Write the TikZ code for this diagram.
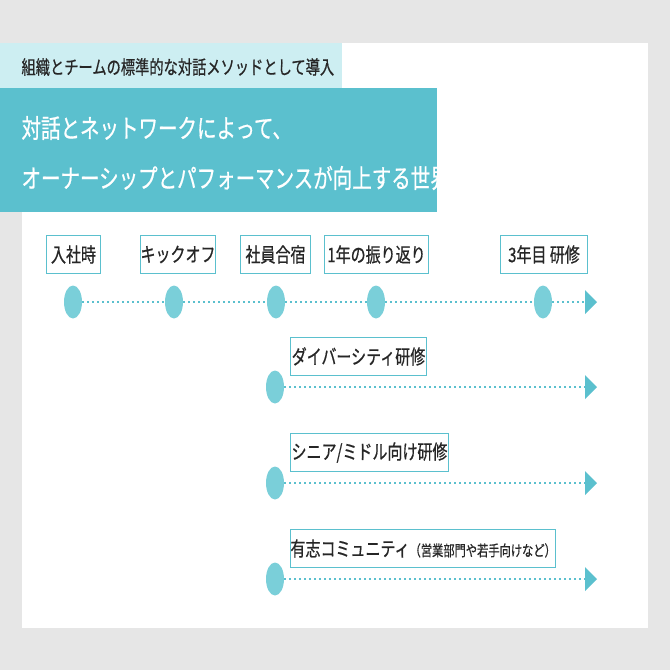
\documentclass[tikz,border=0pt]{standalone}
\usepackage{fontspec}
\setmainfont{Noto Sans CJK JP}
\newfontfamily\cond[FakeStretch=0.75,FakeBold=0.6]{Noto Sans CJK JP}
\usetikzlibrary{shapes.geometric}
\definecolor{teal1}{HTML}{5BC0CE}
\definecolor{dotc}{HTML}{7ACFD9}
\definecolor{light}{HTML}{CDEEF2}
\definecolor{bg}{HTML}{E6E6E6}
\begin{document}
\begin{tikzpicture}[x=1pt,y=-1pt,
  lbl/.style={draw=teal1,line width=1pt,fill=white,inner sep=0pt,anchor=north west,font=\cond\fontsize{20}{20}\selectfont,text=black!85},
  dot/.style={ellipse,fill=dotc,minimum width=18pt,minimum height=33pt,inner sep=0pt},
  tl/.style={line width=1.6pt,teal1,dash pattern=on 1.6pt off 3.4pt},
  tip/.style={fill=teal1}]
\fill[bg] (0,0) rectangle (670,670);
\fill[white] (22,43) rectangle (648,628);
\fill[light] (0,43) rectangle (342,88);
\node[anchor=west,font=\cond\fontsize{19}{19}\selectfont,text=black!85] (sub) at (18,67) {組織とチームの標準的な対話メソッドとして導入};
\fill[teal1] (0,88) rectangle (437,212);
\node[anchor=west,text=white,font=\cond\fontsize{26}{26}\selectfont] (title1) at (18,128) {対話とネットワークによって、};
\node[anchor=west,text=white,font=\cond\fontsize{26}{26}\selectfont] (title2) at (18,178) {オーナーシップとパフォーマンスが向上する世界};
\foreach \n/\x/\w/\t in {a/46/54/入社時,b/140/74/キックオフ,c/240/70/社員合宿,d/324/104/1年の振り返り,e/500/87/3年目 研修}{
  \node[lbl,minimum width=\w pt,minimum height=38pt] (l\n) at (\x,235) {\t};
}
\foreach \n/\x in {a/73,b/174,c/276,d/376,e/543}{\node[dot] (d\n) at (\x,302) {};}
\coordinate (end0) at (585,302);
\draw[tl] (da.east) -- (db.west) (db.east) -- (dc.west) (dc.east) -- (dd.west) (dd.east) -- (de.west) (de.east) -- (end0);
\fill[tip] (585,290) -- (597,302) -- (585,314) -- cycle;
\foreach \i/\y/\w/\t in {1/387/136/{ダイバーシティ研修},2/483/158/{シニア/ミドル向け研修},3/579/261/{有志コミュニティ{\fontsize{15}{15}\selectfont（営業部門や若手向けなど）}}}{
  \node[lbl,minimum width=\w pt,minimum height=38pt] (r\i) at (290,\y-50) {\t};
  \node[dot] (rd\i) at (275,\y) {};
  \coordinate (re\i) at (585,\y);
  \draw[tl] (rd\i.east) -- (re\i);
  \fill[tip] (585,\y-12) -- (597,\y) -- (585,\y+12) -- cycle;
}
\end{tikzpicture}
\end{document}
